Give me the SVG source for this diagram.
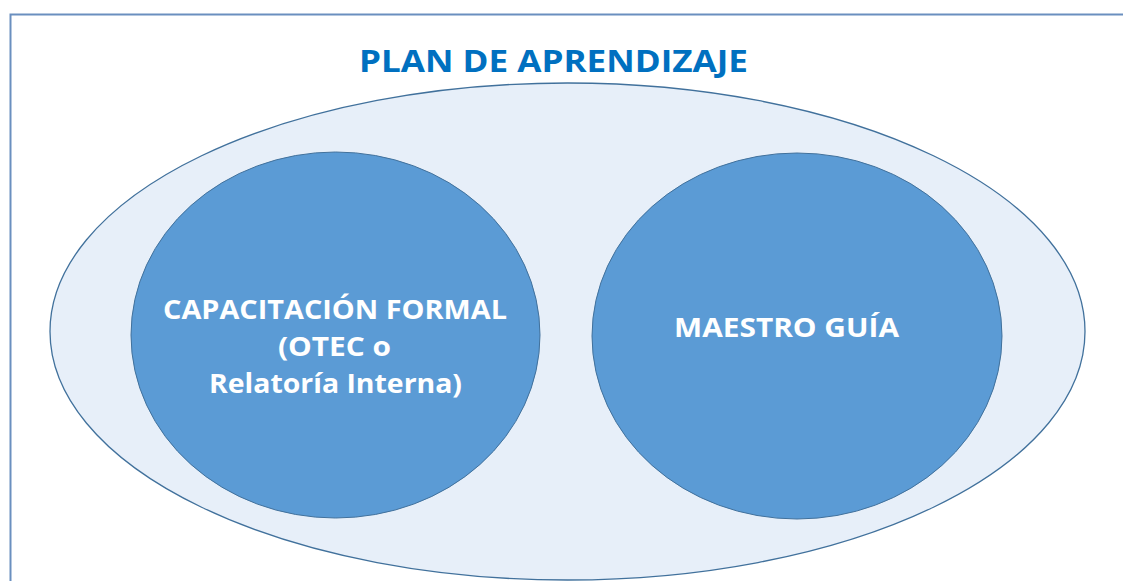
<svg xmlns="http://www.w3.org/2000/svg" width="1123" height="581" viewBox="0 0 1123 581">
<style>
.frame{fill:#ffffff;stroke:#6A8FBF;stroke-width:2}
.outer{fill:#E7EFF9;stroke:#41719C;stroke-width:1.3}
.inner{fill:#5B9BD5;stroke:#41719C;stroke-width:1}
.title{font-family:"Open Sans","Liberation Sans",sans-serif;font-weight:bold;font-size:31px;fill:#0070C0;text-anchor:middle}
.lbl{font-family:"Open Sans","Liberation Sans",sans-serif;font-weight:bold;font-size:26px;fill:#ffffff;text-anchor:middle}
</style>
<rect width="1123" height="581" fill="#ffffff"/>
<rect class="frame" x="10.5" y="14.5" width="1130" height="600"/>
<text class="title" x="553.5" y="72" textLength="389" lengthAdjust="spacingAndGlyphs">PLAN DE APRENDIZAJE</text>
<g id="plan">
<ellipse class="outer" cx="567.5" cy="331.5" rx="517.5" ry="248.5"/>
</g>
<g id="capacitacion">
<ellipse class="inner" cx="335.5" cy="335" rx="204.5" ry="183"/>
<text class="lbl" x="335" y="319" textLength="344" lengthAdjust="spacingAndGlyphs">CAPACITACIÓN FORMAL</text>
<text class="lbl" x="334.5" y="356" textLength="113" lengthAdjust="spacingAndGlyphs">(OTEC o</text>
<text class="lbl" x="335.5" y="393" textLength="253" lengthAdjust="spacingAndGlyphs">Relatoría Interna)</text>
</g>
<g id="maestro">
<ellipse class="inner" cx="797" cy="336" rx="205" ry="183"/>
<text class="lbl" x="786.5" y="337" textLength="225" lengthAdjust="spacingAndGlyphs">MAESTRO GUÍA</text>
</g>
<g id="connectors"/>
</svg>
